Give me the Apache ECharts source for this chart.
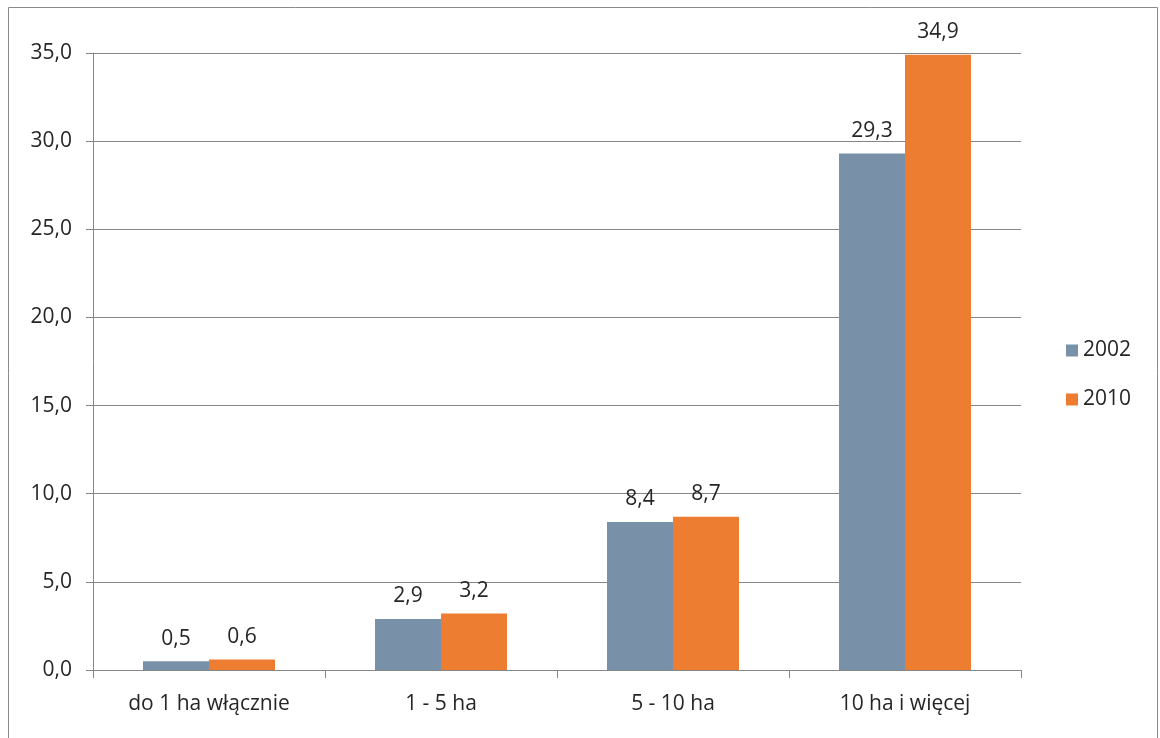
<!DOCTYPE html>
<html>
<head>
<meta charset="utf-8">
<script src="https://cdn.jsdelivr.net/npm/echarts@6/dist/echarts.min.js"></script>
<style>
  html, body { margin: 0; padding: 0; background: #fff; }
  #chart { width: 1160px; height: 738px; }
</style>
</head>
<body>
<div id="chart"></div>
<script>
const categories = ['do 1 ha włącznie', '1 - 5 ha', '5 - 10 ha', '10 ha i więcej'];
const values2002 = [0.5, 2.9, 8.4, 29.3];
const values2010 = [0.6, 3.2, 8.7, 34.9];
const yTicks = { min: 0, max: 35, interval: 5 };

const fontFamily = '"Open Sans", "DejaVu Sans", sans-serif';
const textColor = '#262626';
const lineColor = '#868686';
const fontSize = 21;

const chart = echarts.init(document.getElementById('chart'));

const fmt = v => v.toFixed(1).replace('.', ',');

const labelStyle = {
  show: true,
  position: 'top',
  distance: 12,
  color: textColor,
  fontSize: fontSize,
  fontFamily: fontFamily,
  formatter: p => fmt(p.value)
};

chart.setOption({
  animation: false,
  textStyle: { fontFamily: fontFamily },
  graphic: [
    {
      type: 'rect',
      shape: { x: 8.5, y: 7.5, width: 1149, height: 740 },
      style: { fill: 'none', stroke: '#8a8a8a', lineWidth: 1 },
      silent: true
    }
  ],
  legend: {
    orient: 'vertical',
    left: 1061,
    top: 335,
    itemWidth: 12,
    itemHeight: 12,
    itemGap: 28,
    icon: 'rect',
    textStyle: { color: textColor, fontSize: fontSize, fontFamily: fontFamily },
    data: ['2002', '2010']
  },
  grid: {
    left: 93,
    right: 139,
    top: 53,
    bottom: 68,
    containLabel: false
  },
  xAxis: {
    type: 'category',
    data: categories,
    axisLine: { show: true, lineStyle: { color: lineColor } },
    axisTick: { show: true, length: 8, lineStyle: { color: lineColor } },
    axisLabel: { color: textColor, fontSize: fontSize, margin: 24, fontFamily: fontFamily },
    splitLine: { show: false }
  },
  yAxis: {
    type: 'value',
    min: yTicks.min,
    max: yTicks.max,
    interval: yTicks.interval,
    axisLine: { show: true, lineStyle: { color: lineColor } },
    axisTick: { show: true, length: 7, lineStyle: { color: lineColor } },
    axisLabel: {
      color: textColor,
      fontSize: fontSize,
      margin: 21,
      fontFamily: fontFamily,
      formatter: v => fmt(v)
    },
    splitLine: { show: true, lineStyle: { color: lineColor, width: 1 } }
  },
  series: [
    {
      name: '2002',
      type: 'bar',
      data: values2002,
      barWidth: 66,
      barGap: '0%',
      itemStyle: { color: '#7891a9' },
      label: labelStyle
    },
    {
      name: '2010',
      type: 'bar',
      data: values2010,
      barWidth: 66,
      barGap: '0%',
      itemStyle: { color: '#ed7d31' },
      label: labelStyle
    }
  ]
});

window.onresize = function() {
  chart.resize();
};
</script>
</body>
</html>
